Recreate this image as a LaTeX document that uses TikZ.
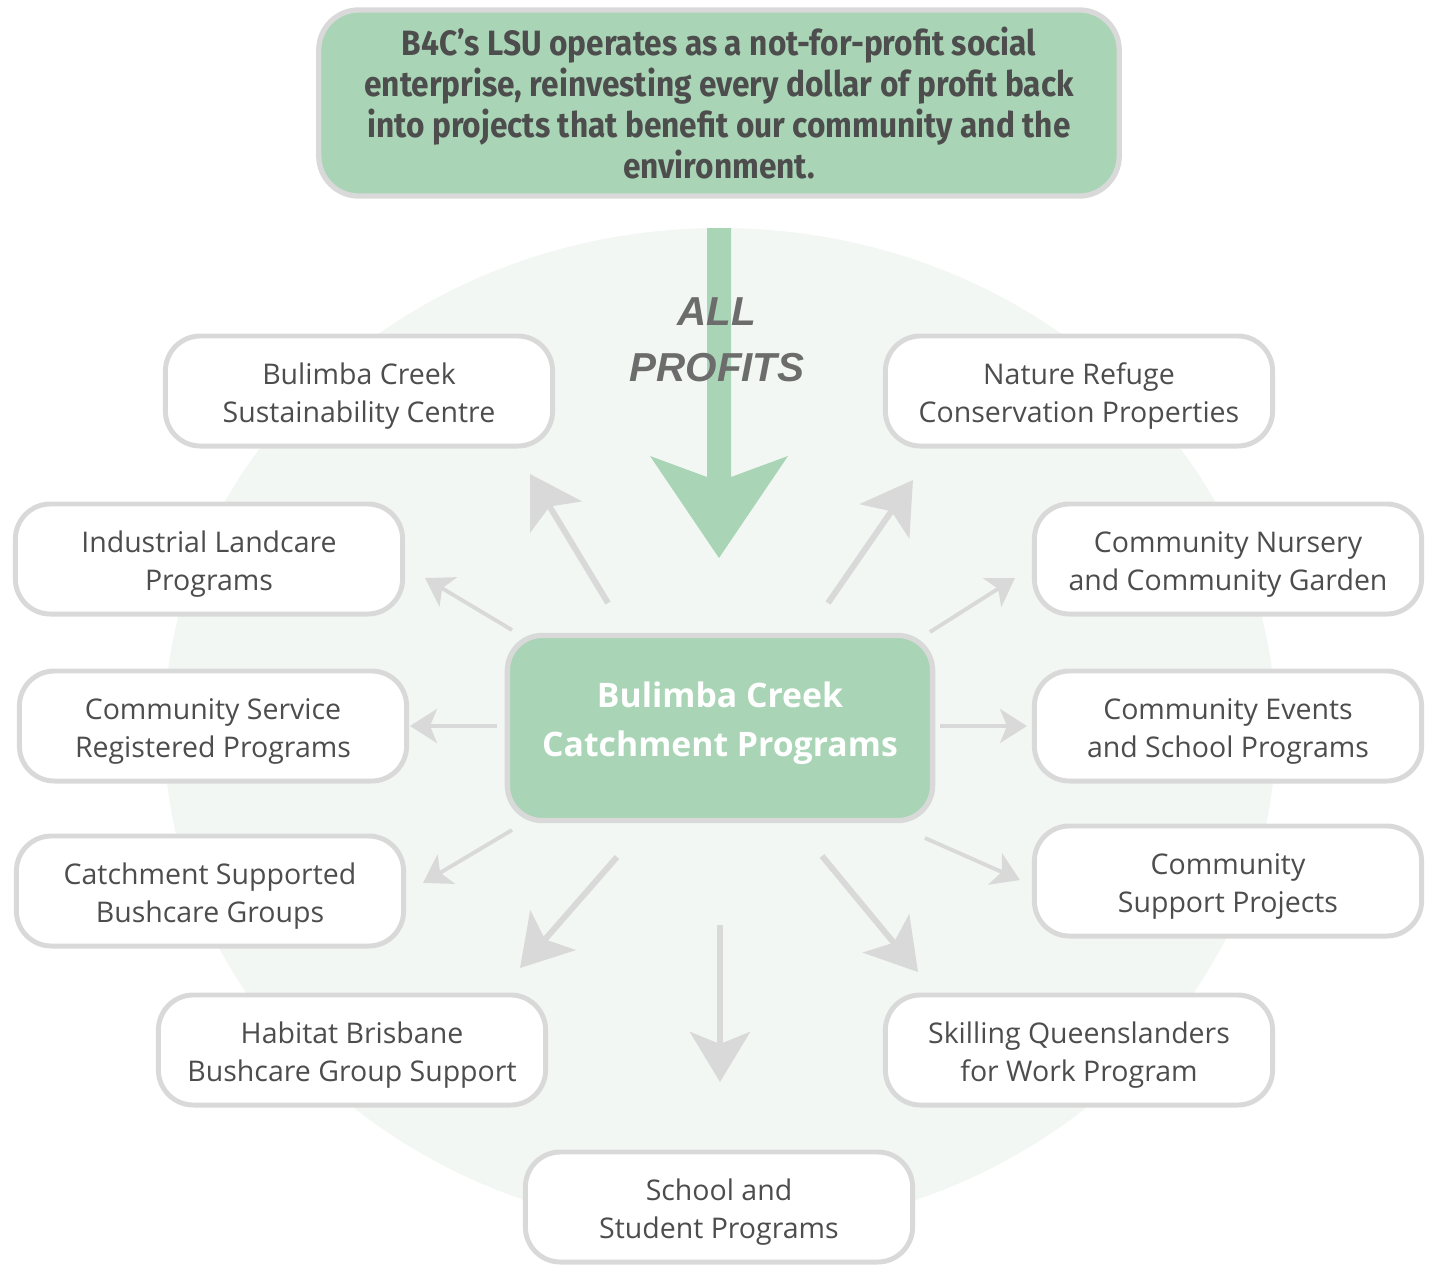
\documentclass[tikz,border=0pt]{standalone}
\usepackage{fontspec}
\setmainfont{Open Sans}
\newfontfamily\condfont[FakeStretch=0.9]{Fira Sans}
\newfontfamily\arialfont{Liberation Sans}
\usepackage{tikz}
\usetikzlibrary{arrows.meta,positioning}
\definecolor{leafg}{RGB}{169,213,182}
\definecolor{rimg}{RGB}{217,217,217}
\definecolor{tintg}{RGB}{243,247,244}
\definecolor{inkg}{RGB}{77,77,77}
\definecolor{profg}{RGB}{108,108,108}

\tikzset{
  prog/.style={draw=rimg,line width=1.4pt,fill=white,rounded corners=0.35cm,
    minimum width=3.87cm,minimum height=1.1cm,align=center,text=inkg,
    text height=20pt,text depth=2.2pt,font=\fontsize{8.1}{10.8}\selectfont},
  spoke/.style={draw=rimg,line width=1.7pt,
    -{Stealth[length=0.5cm,width=0.6cm,inset=0.12cm]}},
  spokesm/.style={draw=rimg,line width=1.1pt,
    -{Stealth[length=0.27cm,width=0.34cm,inset=0.07cm]}}
}

\begin{document}
\begin{tikzpicture}[x=0.01cm,y=-0.01cm]
  \useasboundingbox (0,0) rectangle (1441,1278);
  % backdrop
  \fill[tintg] (720,730) ellipse [x radius=556,y radius=502];

  % top statement
  \node[draw=rimg,line width=1.5pt,fill=leafg,rounded corners=0.4cm,
    minimum width=8.0cm,minimum height=1.86cm,align=center,text=inkg,
    font=\condfont\bfseries\fontsize{10}{11.7}\selectfont] (lsu) at (719,103)
    {B4C’s LSU operates as a not-for-profit social\\
     enterprise, reinvesting every dollar of profit back\\
     into projects that benefit our community and the\\
     environment.};

  % big green arrow
  \fill[leafg] (707,228) -- (731,228) -- (731,477) -- (788,456) -- (719,558)
    -- (650,456) -- (707,477) -- cycle;
  \node[align=center,text=profg,font=\arialfont\bfseries\itshape\fontsize{11.5}{16}\selectfont]
    (allp) at (717,340) {ALL\\PROFITS};

  % hub
  \node[draw=rimg,line width=1.5pt,fill=leafg,rounded corners=0.35cm,
    minimum width=4.25cm,minimum height=1.85cm,align=center,text=white,
    text depth=5pt,font=\bfseries\fontsize{9.6}{13.7}\selectfont] (hub) at (720,728)
    {Bulimba Creek\\Catchment Programs};

  % programs
  \node[prog] (bcsc)  at (359,391)  {Bulimba Creek\\Sustainability Centre};
  \node[prog] (nrcp)  at (1079,391) {Nature Refuge\\Conservation Properties};
  \node[prog] (ilp)   at (209,559)  {Industrial Landcare\\Programs};
  \node[prog] (cncg)  at (1228,559) {Community Nursery\\and Community Garden};
  \node[prog] (csrp)  at (213,726)  {Community Service\\Registered Programs};
  \node[prog] (cesp)  at (1228,726) {Community Events\\and School Programs};
  \node[prog] (csbg)  at (210,891)  {Catchment Supported\\Bushcare Groups};
  \node[prog] (csp)   at (1228,881) {Community\\Support Projects};
  \node[prog] (hbbgs) at (352,1050) {Habitat Brisbane\\Bushcare Group Support};
  \node[prog] (sqwp)  at (1079,1050) {Skilling Queenslanders\\for Work Program};
  \node[prog] (ssp)   at (719,1207) {School and\\Student Programs};

  % spoke ends
  \coordinate (s1) at (608,603);  \coordinate (t1) at (530,474);
  \coordinate (s2) at (828,603);  \coordinate (t2) at (913,480);
  \coordinate (s3) at (512,630);  \coordinate (t3) at (425,578);
  \coordinate (s4) at (930,632);  \coordinate (t4) at (1015,578);
  \coordinate (s5) at (497,726);  \coordinate (t5) at (410,726);
  \coordinate (s6) at (940,726);  \coordinate (t6) at (1027,726);
  \coordinate (s7) at (512,830);  \coordinate (t7) at (423,883);
  \coordinate (s8) at (925,838);  \coordinate (t8) at (1020,880);
  \coordinate (s9) at (617,857);  \coordinate (t9) at (520,968);
  \coordinate (s10) at (720,925); \coordinate (t10) at (720,1082);
  \coordinate (s11) at (822,856); \coordinate (t11) at (918,972);

  \foreach \n in {1,2,9,10,11}
    \draw[spoke] (s\n) -- (t\n);
  \foreach \n in {3,...,8}
    \draw[spokesm] (s\n) -- (t\n);
\end{tikzpicture}
\end{document}
